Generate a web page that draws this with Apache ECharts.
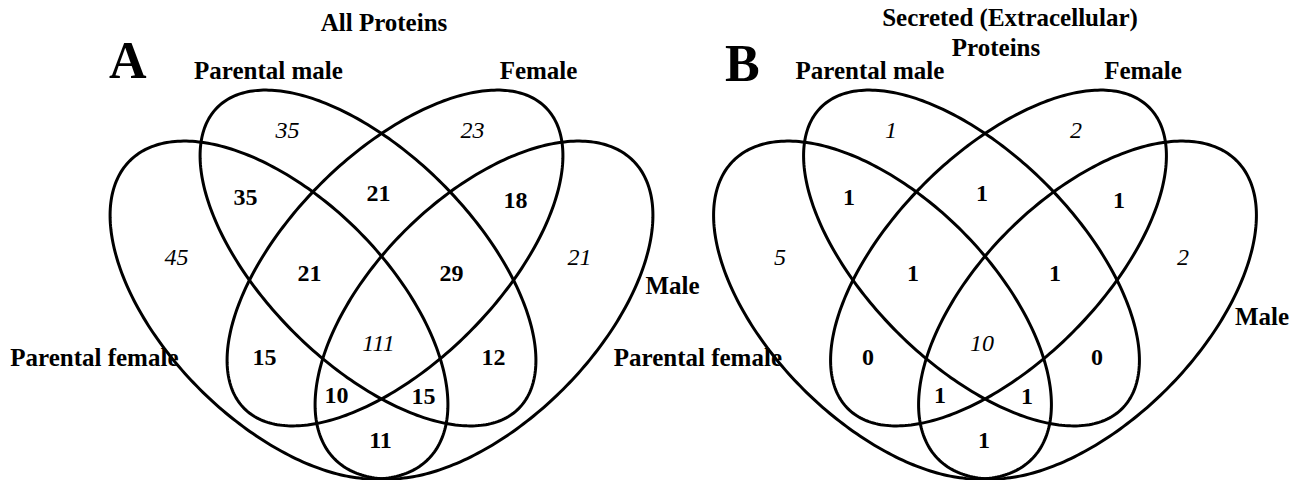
<!DOCTYPE html>
<html>
<head>
<meta charset="utf-8">
<script src="https://cdn.jsdelivr.net/npm/echarts@6/dist/echarts.min.js"></script>
<style>
  html, body { margin: 0; padding: 0; background: #fff; }
  #chart { width: 1303px; height: 480px; }
</style>
</head>
<body>
<div id="chart"></div>
<script>
// sets, ellipses from left to right
const setNames = ['Parental female', 'Parental male', 'Female', 'Male'];
const panelLetters = ['A', 'B'];
const panelTitles = [['All Proteins'], ['Secreted (Extracellular)', 'Proteins']];
// region membership (Parental female, Parental male, Female, Male)
const regions = ['0100', '0010', '1000', '0001', '1100', '0110', '0011',
  '1110', '0111', '1010', '0101', '1111', '1011', '1101', '1001'];
const countsAll = [35, 23, 45, 21, 35, 21, 18, 21, 29, 15, 12, 111, 10, 15, 11];
const countsSecreted = [1, 2, 5, 2, 1, 1, 1, 1, 1, 0, 0, 10, 1, 1, 1];

// ---- layout (pixels, y down) ----
const W = 1303, H = 480;
const FONT = 'Liberation Serif, Times New Roman, serif';
const panelX = [381.5, 985];
const ellipses = [
  { dx: -102.5, cy: 310, a: 211, b: 112, rot: 45 },
  { dx: -13.5, cy: 258, a: 213, b: 105, rot: 45 },
  { dx: 13.5, cy: 258, a: 213, b: 105, rot: -45 },
  { dx: 102.5, cy: 310, a: 211, b: 112, rot: -45 }
];
// number anchor of each region, relative to panel centre
const regionPos = [
  [-94, 130], [91, 130], [-205, 257], [198, 257], [-136, 197], [-3, 193], [134, 200],
  [-72, 273], [70, 273], [-117, 357], [112, 357], [-3, 343], [-45, 395], [42, 396], [-1, 440]
];
// set label anchors per panel: [x, y, align]
const setLabelPos = [
  [[-203, 357, 'right'], [-113, 70, 'center'], [157, 70, 'center'], [264, 285, 'left']],
  [[-203, 357, 'right'], [-115, 70, 'center'], [158, 70, 'center'], [250, 316, 'left']]
];
const titlePos = [[[384, 22]], [[1010, 17], [996, 47]]];
const letterPos = [[109, 60], [725, 63]];

const chart = echarts.init(document.getElementById('chart'), null, { renderer: 'svg' });

function isItalic(key) {
  const n = key.split('').filter(c => c === '1').length;
  return n === 1 || n === 4;
}

const ellipseData = [];
panelX.forEach((px, p) => ellipses.forEach((e, k) => ellipseData.push([p, k])));

const countData = [];
[countsAll, countsSecreted].forEach((counts, p) => {
  regions.forEach((r, i) => {
    countData.push([panelX[p] + regionPos[i][0], regionPos[i][1], counts[i], isItalic(r) ? 1 : 0]);
  });
});

function renderEllipse(params, api) {
  const e = ellipses[api.value(1)];
  const cx = panelX[api.value(0)] + e.dx, cy = e.cy;
  const th = e.rot * Math.PI / 180;
  const pts = [];
  for (let i = 0; i < 300; i++) {
    const t = i / 300 * Math.PI * 2;
    const ex = e.a * Math.cos(t), ey = e.b * Math.sin(t);
    pts.push(api.coord([
      cx + ex * Math.cos(th) - ey * Math.sin(th),
      cy + ex * Math.sin(th) + ey * Math.cos(th)
    ]));
  }
  return {
    type: 'polygon',
    shape: { points: pts },
    style: { fill: 'none', stroke: '#000', lineWidth: 3 }
  };
}

function renderCount(params, api) {
  const pt = api.coord([api.value(0), api.value(1)]);
  const it = api.value(3) === 1;
  return {
    type: 'text',
    x: pt[0],
    y: pt[1],
    style: {
      text: String(api.value(2)),
      fontFamily: FONT,
      fontSize: 24,
      fontWeight: it ? 'normal' : 'bold',
      fontStyle: it ? 'italic' : 'normal',
      align: 'center',
      verticalAlign: 'middle',
      fill: '#000'
    }
  };
}

function txt(text, x, y, size, align) {
  return {
    type: 'text', x: x, y: y, silent: true,
    style: {
      text: text, fontFamily: FONT, fontSize: size, fontWeight: 'bold',
      align: align || 'center', verticalAlign: 'middle', fill: '#000'
    }
  };
}

const graphics = [];
panelX.forEach((px, p) => {
  setNames.forEach((name, k) => {
    const lp = setLabelPos[p][k];
    graphics.push(txt(name, px + lp[0], lp[1], 25, lp[2]));
  });
  panelTitles[p].forEach((line, j) => {
    graphics.push(txt(line, titlePos[p][j][0], titlePos[p][j][1], 25));
  });
  graphics.push(txt(panelLetters[p], letterPos[p][0], letterPos[p][1], 52, 'left'));
});

chart.setOption({
  animation: false,
  backgroundColor: '#fff',
  grid: { left: 0, top: 0, width: W, height: H },
  xAxis: { type: 'value', min: 0, max: W, show: false },
  yAxis: { type: 'value', min: 0, max: H, inverse: true, show: false },
  graphic: graphics,
  series: [
    {
      type: 'custom',
      renderItem: renderEllipse,
      data: ellipseData,
      encode: { x: 0, y: 1 },
      silent: true
    },
    {
      type: 'custom',
      renderItem: renderCount,
      data: countData,
      encode: { x: 0, y: 1 },
      silent: true
    }
  ]
});
</script>
</body>
</html>
